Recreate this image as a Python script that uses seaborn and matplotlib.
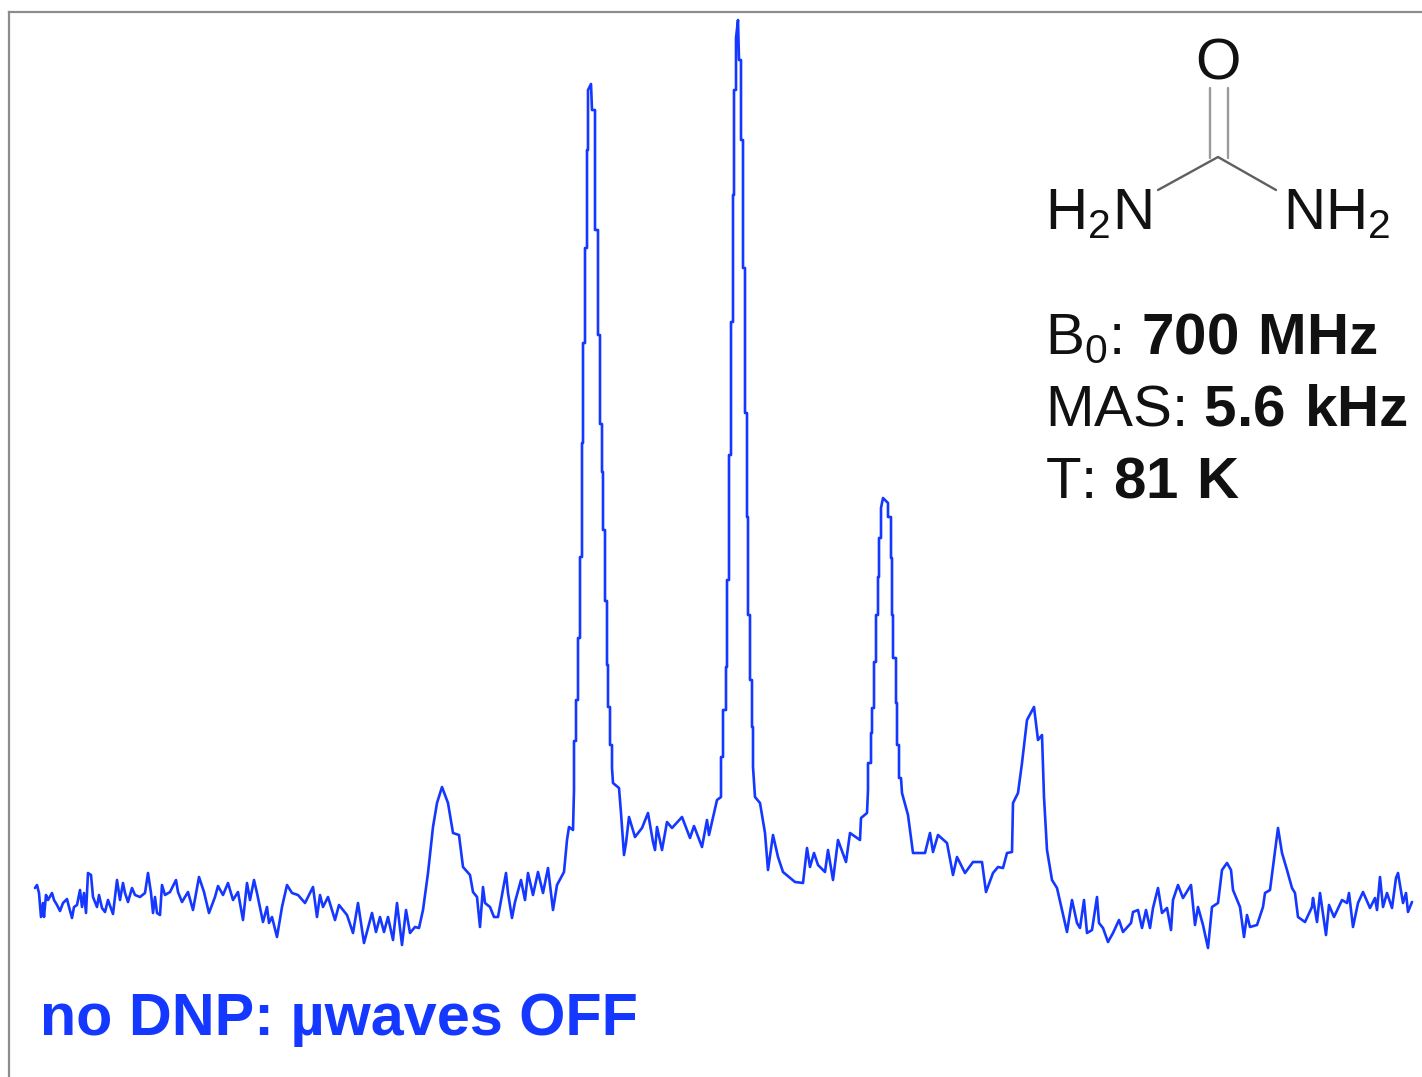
"""DNP-off NMR spectrum of urea with molecule sketch and acquisition settings."""
import matplotlib

matplotlib.use("Agg")
import matplotlib.pyplot as plt
import pandas as pd
import seaborn as sns

position = [
    35, 37, 39, 41, 43, 44, 46, 48, 52, 54, 57, 60, 63, 67, 69, 72, 74, 77, 80, 82, 84, 86, 88, 91, 93, 97, 99,
    102, 105, 108, 113, 117, 120, 123, 125, 128, 132, 135, 140, 145, 148, 151, 153, 155, 157, 160, 162, 165, 170,
    176, 178, 182, 188, 193, 199, 204, 209, 215, 218, 223, 228, 233, 238, 243, 247, 250, 254, 257, 263, 267, 269,
    272, 277, 282, 287, 292, 298, 305, 313, 317, 320, 323, 328, 335, 339, 347, 353, 358, 364, 372, 376, 380, 384,
    388, 393, 397, 402, 406, 410, 415, 419, 423, 428, 433, 437, 442, 448, 453, 459, 463, 470, 473, 477, 480, 483,
    485, 490, 494, 498, 502, 506, 508, 512, 515, 521, 525, 528, 533, 538, 543, 548, 553, 557, 564, 567, 569, 573,
    574, 574, 576, 576, 578, 578, 580, 580, 582, 582, 583, 583, 585, 585, 587, 587, 588, 588, 591, 592, 595, 595,
    598, 598, 600, 600, 602, 602, 603, 603, 605, 605, 607, 607, 608, 608, 610, 610, 612, 612, 613, 619, 621, 624,
    626, 629, 635, 642, 648, 653, 655, 657, 662, 667, 672, 682, 690, 694, 702, 707, 709, 717,
    721, 721, 723, 723, 726, 726, 727, 727, 729, 729, 731, 731, 733, 733, 734, 734, 736, 736, 738, 739, 741, 741,
    743, 743, 745, 745, 747, 747, 748, 748, 750, 750, 752, 752, 753, 753, 755, 760, 765, 768, 773, 778, 783, 795,
    803, 807, 810, 814, 818, 825, 828, 833, 838, 846, 850, 860, 861, 867,
    868, 868, 871, 871, 872, 872, 874, 874, 876, 876, 878, 878, 879, 879, 881, 881, 883, 888, 888, 891, 891,
    892, 892, 893, 893, 896, 896, 897, 897, 899, 899, 901, 902, 908, 913, 925, 930, 933, 938, 947,
    953, 957, 965, 973, 982, 986, 993, 998, 1003, 1007, 1012, 1013, 1018, 1022, 1027, 1034, 1038, 1042, 1044, 1047,
    1052, 1057, 1067, 1072, 1077, 1080, 1084, 1087, 1092, 1097, 1099, 1103, 1108, 1113, 1119, 1123, 1131, 1133, 1138,
    1142, 1146, 1150, 1153, 1158, 1162, 1167, 1171, 1173, 1178, 1183, 1191, 1195, 1198, 1203, 1208, 1212, 1218, 1222,
    1227, 1231, 1233, 1240, 1244, 1247, 1250, 1257, 1263, 1265, 1270, 1273, 1278, 1282, 1287, 1292, 1295, 1298, 1305,
    1312, 1313, 1317, 1320, 1326, 1329, 1334, 1342, 1347, 1349, 1353, 1358, 1363, 1370, 1375, 1377, 1380, 1383, 1387,
    1392, 1396, 1398, 1403, 1406, 1408, 1412,
]
intensity = [
    189, 192, 184, 160, 174, 160, 182, 177, 184, 177, 172, 166, 174, 178, 170, 159, 170, 172, 187, 170, 184, 164, 204, 202, 180, 170, 182,
    169, 165, 177, 163, 197, 177, 194, 184, 175, 189, 182, 180, 184, 204, 184, 164, 180, 164, 162, 192, 182, 185,
    197, 185, 175, 185, 167, 200, 185, 164, 180, 191, 182, 194, 177, 185, 157, 194, 177, 197, 184, 155, 170, 154,
    160, 140, 170, 192, 184, 182, 174, 190, 160, 182, 170, 180, 157, 172, 162, 144, 174, 134, 164, 145, 160, 145,
    160, 137, 174, 132, 167, 144, 150, 149, 167, 204, 250, 274, 290, 274, 244, 242, 210, 202, 185, 180, 150, 190,
    174, 170, 160, 160, 182, 204, 184, 159, 175, 197, 177, 204, 182, 205, 184, 209, 167, 192, 205, 237, 250, 247,
    287, 336, 336, 377, 377, 439, 439, 520, 520, 634, 634, 734, 734, 829, 829, 927, 927, 987, 993, 967, 967, 847,
    847, 742, 742, 653, 653, 605, 605, 547, 547, 476, 476, 412, 412, 370, 370, 332, 332, 309, 294, 289, 264, 222,
    234, 260, 240, 249, 264, 235, 227, 250, 227, 255, 249, 260, 239, 251, 230, 257, 242, 277,
    280, 320, 320, 367, 367, 410, 410, 497, 497, 622, 622, 755, 755, 882, 882, 987, 987, 1039, 1057, 1017, 1017, 937,
    937, 809, 809, 664, 664, 560, 560, 462, 462, 397, 397, 350, 350, 310, 280, 274, 244, 207, 242, 220, 205, 195,
    194, 229, 210, 224, 212, 205, 227, 197, 237, 215, 244, 237, 259, 264,
    287, 314, 314, 344, 344, 369, 369, 415, 415, 462, 462, 500, 500, 539, 539, 569, 579, 574, 560, 560, 519,
    519, 462, 462, 419, 419, 374, 374, 332, 332, 299, 299, 284, 262, 224, 224, 244, 225, 242, 234,
    202, 220, 204, 215, 215, 185, 204, 210, 209, 224, 225, 274, 284, 314, 357, 370, 337, 342, 280, 227,
    197, 189, 145, 177, 154, 149, 177, 144, 147, 180, 154, 149, 135, 144, 157, 145, 154, 165, 167,
    149, 167, 149, 169, 189, 164, 169, 147, 177, 192, 179, 192, 152, 170, 152, 129, 170, 174, 207,
    214, 207, 187, 170, 140, 162, 150, 152, 170, 184, 187, 210, 249, 224, 207, 189, 184, 160, 155,
    170, 179, 155, 184, 142, 172, 160, 177, 174, 184, 150, 174, 185, 169, 179, 167, 200, 170, 184,
    169, 199, 204, 174, 184, 165, 175,
]

BLUE = "#1438ff"
INK = "#111111"

sns.set_theme(style="white")
plt.rcParams["font.family"] = ["Liberation Sans", "DejaVu Sans"]
plt.rcParams["mathtext.fontset"] = "custom"
plt.rcParams["mathtext.rm"] = "Liberation Sans"
plt.rcParams["mathtext.bf"] = "Liberation Sans:bold"

fig = plt.figure(figsize=(14.22, 10.77), dpi=100)
ax = fig.add_axes([9 / 1422, 0, 1 - 9 / 1422, 1 - 12 / 1077])

spectrum = pd.DataFrame({"position": position, "intensity": intensity})
sns.lineplot(data=spectrum, x="position", y="intensity", sort=False, estimator=None, color=BLUE, linewidth=1.9, ax=ax)

ax.set_xlim(9, 1422)
ax.set_ylim(0, 1065)
ax.set_xticks([])
ax.set_yticks([])
ax.set_xlabel("")
ax.set_ylabel("")
for side in ["right", "bottom"]:
    ax.spines[side].set_visible(False)
for side in ["left", "top"]:
    ax.spines[side].set_color("#8c8c8c")
    ax.spines[side].set_linewidth(1.6)

# Urea skeleton.
ax.plot([1210, 1210], [989, 919], color="#9a9a9a", linewidth=1.7)
ax.plot([1228, 1228], [989, 919], color="#9a9a9a", linewidth=1.7)
ax.plot([1158, 1218, 1276], [887, 920, 887], color="#5f5f5f", linewidth=1.7)
ax.text(1218, 997, "O", fontsize=42, color=INK, ha="center", va="baseline")
ax.text(1045, 848, "H$_2$N", fontsize=42, color=INK, ha="left", va="baseline")
ax.text(1283, 848, "NH$_2$", fontsize=42, color=INK, ha="left", va="baseline")

# Acquisition settings.
ax.text(1045, 724, r"B$_0$: $\mathbf{700\ MHz}$", fontsize=42, color=INK, ha="left", va="baseline")
ax.text(1045, 651, r"MAS: $\mathbf{5.6\ kHz}$", fontsize=42, color=INK, ha="left", va="baseline")
ax.text(1045, 580, r"T: $\mathbf{81\ K}$", fontsize=42, color=INK, ha="left", va="baseline")

ax.text(40, 42, "no DNP: µwaves OFF", fontsize=42.7, fontweight="bold", color=BLUE, ha="left", va="baseline")

fig.savefig("out.png", dpi=100)
